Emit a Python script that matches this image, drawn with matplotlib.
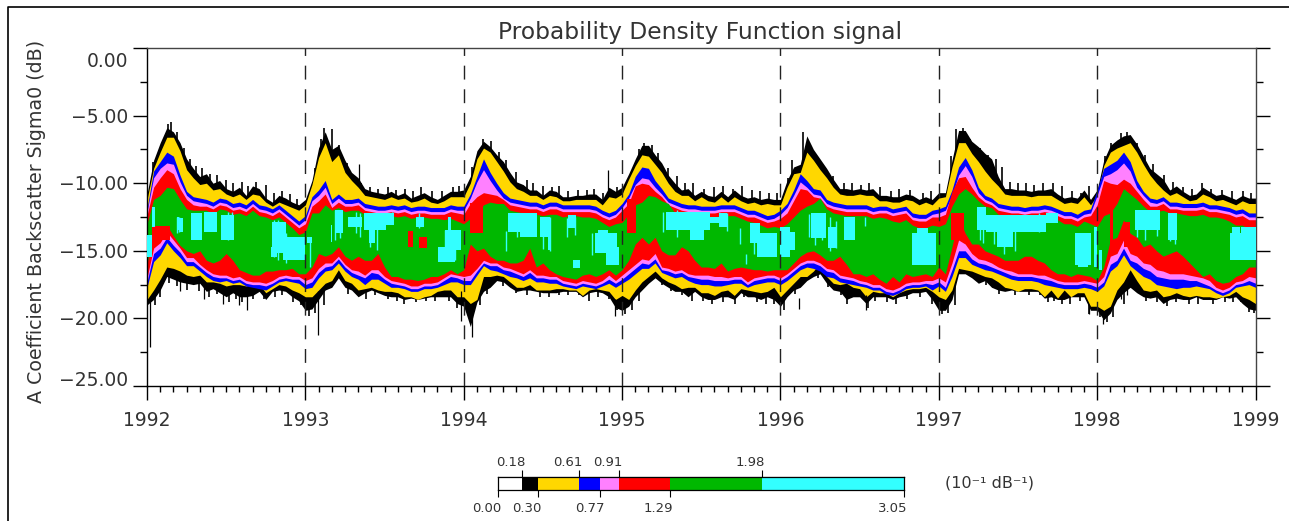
import numpy as np
import matplotlib
matplotlib.use('Agg')
import matplotlib.pyplot as plt
from matplotlib.lines import Line2D

# half-monthly samples 1992.0 -> 1999.0, dB
black_top = [
 -10.8,-8.3,-7.0,-5.9,-6.2,-7.0,-8.2,-8.9,-9.5,-9.3,-10.0,-9.8,-10.4,-10.6,-10.3,-10.9,-10.2,-10.4,-11.1,-11.4,-10.9,-11.1,-11.4,-11.6,
 -11.2,-9.8,-7.4,-6.2,-7.5,-7.2,-8.3,-9.2,-9.6,-10.4,-10.6,-10.7,-10.8,-10.6,-10.9,-10.7,-11.1,-10.9,-10.7,-11.0,-11.2,-10.9,-10.6,-10.6,
 -10.5,-9.5,-7.6,-6.9,-7.3,-7.9,-8.4,-9.2,-9.9,-10.1,-10.5,-10.5,-10.9,-10.5,-10.6,-11.0,-11.0,-10.9,-10.9,-10.8,-10.8,-11.2,-10.3,-10.6,
 -10.3,-9.3,-8.2,-7.2,-7.2,-7.9,-8.5,-9.4,-10.0,-10.5,-10.4,-10.9,-10.6,-10.9,-11.0,-10.6,-11.0,-10.5,-10.9,-11.1,-11.0,-11.2,-11.1,-11.2,
 -11.2,-9.8,-8.8,-8.6,-6.5,-7.5,-8.2,-8.9,-9.7,-10.4,-10.4,-10.5,-10.4,-10.5,-10.4,-10.9,-10.9,-11.0,-11.0,-10.8,-10.9,-11.2,-11.0,-11.2,
 -10.7,-10.7,-8.3,-6.1,-6.1,-6.9,-7.3,-7.8,-8.2,-9.5,-10.4,-10.4,-10.5,-10.5,-10.6,-10.5,-10.5,-10.4,-10.8,-11.1,-11.0,-11.1,-10.5,-11.2,
 -10.5,-8.3,-7.2,-6.8,-6.5,-6.4,-7.1,-8.0,-8.9,-9.3,-9.7,-10.5,-10.2,-10.6,-10.9,-10.8,-10.3,-10.6,-10.9,-10.8,-11.0,-11.2,-10.9,-11.1,-11.1]
yellow_top = [
 -11.2,-8.9,-7.7,-6.6,-6.6,-7.6,-9.0,-9.6,-10.1,-10.0,-10.5,-10.4,-10.8,-11.0,-10.8,-11.2,-10.8,-10.9,-11.4,-11.7,-11.4,-11.6,-11.8,-12.0,
 -11.6,-10.1,-8.1,-7.0,-8.4,-7.9,-9.2,-9.8,-10.3,-10.9,-11.0,-11.1,-11.2,-11.0,-11.2,-11.1,-11.4,-11.3,-11.1,-11.4,-11.5,-11.3,-11.0,-11.0,
 -11.0,-10.0,-8.2,-7.4,-7.7,-8.4,-9.1,-9.9,-10.4,-10.6,-10.9,-10.9,-11.2,-10.9,-11.0,-11.3,-11.3,-11.2,-11.2,-11.2,-11.2,-11.6,-11.0,-11.1,
 -10.8,-9.7,-8.7,-7.9,-8.0,-8.6,-9.2,-10.0,-10.6,-10.9,-10.9,-11.3,-11.0,-11.3,-11.4,-11.0,-11.4,-11.0,-11.3,-11.5,-11.4,-11.6,-11.5,-11.6,
 -11.6,-10.3,-9.3,-9.2,-7.7,-8.3,-9.0,-9.6,-10.3,-10.8,-10.9,-10.9,-10.8,-10.9,-10.9,-11.3,-11.3,-11.4,-11.4,-11.2,-11.3,-11.6,-11.4,-11.6,
 -11.1,-11.0,-8.8,-7.0,-7.0,-7.8,-8.4,-9.1,-9.7,-10.2,-10.8,-10.9,-10.9,-10.9,-11.0,-10.9,-10.9,-10.9,-11.2,-11.5,-11.4,-11.5,-11.0,-11.6,
 -10.9,-8.7,-7.7,-7.4,-7.2,-7.0,-7.7,-8.6,-9.4,-10.0,-10.5,-10.9,-10.7,-11.0,-11.3,-11.2,-10.8,-11.0,-11.3,-11.2,-11.4,-11.6,-11.3,-11.5,-11.5]
blue_top = [
 -11.9,-9.1,-8.4,-7.7,-8.0,-9.4,-10.6,-11.0,-11.1,-11.2,-11.4,-11.1,-11.2,-11.5,-11.4,-11.6,-11.2,-11.6,-11.7,-11.9,-11.6,-12.0,-12.4,-12.8,
 -12.4,-11.0,-10.5,-9.8,-11.2,-10.8,-11.2,-11.2,-11.1,-11.5,-11.6,-11.7,-11.7,-11.6,-11.7,-11.6,-11.8,-11.7,-11.7,-11.8,-11.8,-11.8,-11.6,-11.7,
 -11.7,-10.8,-9.5,-8.2,-9.2,-10.0,-10.7,-11.1,-11.2,-11.3,-11.4,-11.4,-11.6,-11.4,-11.4,-11.6,-11.6,-11.6,-11.6,-11.6,-11.7,-12.0,-12.2,-12.0,
 -11.5,-10.8,-9.5,-8.8,-8.9,-9.8,-10.4,-11.1,-11.3,-11.5,-11.6,-11.6,-11.7,-11.7,-11.7,-11.6,-11.6,-11.6,-11.8,-12.0,-12.0,-12.2,-12.4,-12.3,
 -12.0,-11.5,-10.5,-9.3,-9.8,-10.4,-10.5,-11.2,-11.4,-11.5,-11.6,-11.6,-11.6,-11.6,-11.8,-11.7,-11.7,-11.9,-11.8,-11.7,-12.2,-12.3,-12.3,-12.0,
 -11.9,-11.7,-10.5,-8.8,-8.1,-9.0,-10.3,-10.9,-11.1,-11.5,-11.6,-11.7,-11.7,-11.8,-11.7,-11.7,-11.6,-11.7,-11.9,-12.1,-12.1,-12.3,-12.0,-11.9,
 -10.5,-8.9,-8.6,-8.3,-7.7,-8.4,-9.8,-10.6,-11.1,-11.2,-11.0,-11.4,-11.4,-11.5,-11.5,-11.5,-11.4,-11.6,-11.6,-11.7,-11.8,-12.0,-11.9,-12.2,-12.2]
pink_top = [
 -12.1,-9.6,-8.9,-8.5,-8.6,-9.9,-10.9,-11.3,-11.4,-11.5,-11.7,-11.4,-11.5,-11.8,-11.7,-11.9,-11.5,-11.9,-12.0,-12.2,-11.9,-12.3,-12.7,-13.1,
 -12.7,-11.3,-10.9,-10.3,-11.5,-11.1,-11.5,-11.5,-11.4,-11.8,-11.9,-12.0,-12.0,-11.9,-12.0,-11.9,-12.1,-12.0,-12.0,-12.1,-12.1,-12.1,-11.9,-12.0,
 -12.0,-11.1,-9.9,-9.0,-9.8,-10.5,-11.1,-11.4,-11.5,-11.6,-11.7,-11.7,-11.9,-11.7,-11.7,-11.9,-11.9,-11.9,-11.9,-11.9,-12.0,-12.3,-12.5,-12.3,
 -11.8,-11.1,-10.1,-9.6,-9.7,-10.3,-10.8,-11.4,-11.6,-11.8,-11.9,-11.9,-12.0,-12.0,-12.0,-11.9,-11.9,-11.9,-12.1,-12.3,-12.3,-12.5,-12.7,-12.6,
 -12.3,-11.8,-10.9,-9.9,-10.3,-10.8,-10.9,-11.5,-11.7,-11.8,-11.9,-11.9,-11.9,-11.9,-12.1,-12.0,-12.0,-12.2,-12.1,-12.0,-12.5,-12.6,-12.6,-12.3,
 -12.2,-12.0,-10.9,-9.4,-8.7,-9.5,-10.7,-11.2,-11.4,-11.8,-11.9,-12.0,-12.0,-12.1,-12.0,-12.0,-11.9,-12.0,-12.2,-12.4,-12.4,-12.6,-12.3,-12.2,
 -10.9,-9.5,-9.3,-9.0,-8.5,-9.1,-10.3,-10.9,-11.4,-11.5,-11.3,-11.7,-11.7,-11.8,-11.8,-11.8,-11.7,-11.9,-11.9,-12.0,-12.1,-12.3,-12.2,-12.5,-12.5]
red_top = [
 -12.4,-10.3,-9.6,-9.0,-9.3,-10.4,-11.2,-11.6,-11.7,-11.7,-11.9,-11.6,-11.7,-12.0,-11.9,-12.1,-11.7,-12.1,-12.2,-12.4,-12.1,-12.5,-12.9,-13.3,
 -13.0,-11.7,-11.3,-10.8,-11.8,-11.4,-11.7,-11.7,-11.6,-12.0,-12.1,-12.2,-12.2,-12.1,-12.2,-12.1,-12.3,-12.2,-12.2,-12.3,-12.3,-12.3,-12.1,-12.2,
 -12.3,-11.5,-11.0,-10.7,-10.8,-10.9,-11.2,-11.6,-11.7,-11.8,-11.9,-11.9,-12.1,-11.9,-11.9,-12.1,-12.1,-12.1,-12.1,-12.1,-12.2,-12.5,-12.7,-12.5,
 -12.0,-11.5,-10.2,-10.0,-10.1,-10.6,-11.0,-11.6,-11.8,-12.0,-12.1,-12.1,-12.2,-12.2,-12.2,-12.1,-12.1,-12.1,-12.3,-12.5,-12.5,-12.7,-12.9,-12.8,
 -12.6,-12.2,-11.3,-10.4,-10.5,-11.0,-11.1,-11.7,-11.9,-12.0,-12.1,-12.1,-12.1,-12.1,-12.3,-12.2,-12.2,-12.4,-12.3,-12.2,-12.7,-12.8,-12.8,-12.5,
 -12.5,-12.3,-10.6,-9.6,-9.5,-10.3,-11.0,-11.4,-11.6,-12.0,-12.1,-12.2,-12.2,-12.3,-12.2,-12.2,-12.1,-12.2,-12.4,-12.6,-12.6,-12.8,-12.5,-12.4,
 -11.6,-9.8,-10.0,-10.1,-9.7,-10.0,-10.6,-11.2,-11.7,-11.7,-11.5,-11.9,-11.9,-12.0,-12.0,-12.0,-11.9,-12.1,-12.1,-12.2,-12.3,-12.5,-12.4,-12.7,-12.7]
green_top = [
 -13.0,-11.2,-10.9,-10.3,-10.4,-11.2,-11.9,-12.0,-12.0,-12.0,-12.3,-11.9,-12.0,-12.3,-12.2,-12.4,-12.0,-12.4,-12.5,-12.7,-12.5,-12.9,-13.3,-13.8,
 -13.6,-12.2,-12.2,-11.6,-12.0,-11.8,-12.1,-12.0,-12.0,-12.3,-12.4,-12.5,-12.5,-12.4,-12.5,-12.4,-12.6,-12.5,-12.5,-12.6,-12.6,-12.7,-12.6,-12.8,
 -13.0,-12.6,-12.3,-11.6,-11.4,-11.5,-11.5,-12.0,-12.1,-12.2,-12.2,-12.3,-12.4,-12.3,-12.3,-12.5,-12.4,-12.4,-12.5,-12.5,-12.6,-12.9,-13.2,-13.0,
 -12.9,-12.3,-11.6,-11.4,-10.9,-11.0,-11.3,-11.5,-12.2,-12.3,-12.4,-12.4,-12.5,-12.5,-12.5,-12.4,-12.4,-12.4,-12.6,-12.8,-12.9,-13.1,-13.3,-13.2,
 -13.3,-13.0,-12.5,-12.0,-11.7,-11.5,-11.1,-11.9,-12.2,-12.3,-12.4,-12.4,-12.4,-12.4,-12.6,-12.5,-12.6,-12.8,-12.9,-12.7,-13.1,-13.3,-13.3,-13.1,
 -13.2,-13.0,-11.7,-10.8,-10.4,-10.8,-11.3,-11.7,-11.8,-12.3,-12.4,-12.5,-12.5,-12.6,-12.5,-12.5,-12.4,-12.5,-12.7,-13.0,-13.0,-13.2,-12.8,-13.0,
 -13.2,-12.4,-12.2,-11.5,-10.4,-10.8,-11.2,-11.7,-12.1,-12.1,-12.0,-12.2,-12.2,-12.3,-12.4,-12.4,-12.3,-12.5,-12.5,-12.6,-12.8,-13.1,-13.1,-13.4,-13.4]
green_bot = [
 -16.0,-13.3,-13.3,-13.1,-13.9,-14.6,-15.0,-15.2,-15.0,-15.7,-15.9,-15.7,-15.2,-15.7,-16.4,-16.6,-16.8,-16.8,-16.5,-16.5,-16.4,-16.4,-16.3,-16.7,
 -16.7,-16.2,-15.2,-15.4,-15.2,-14.7,-15.4,-15.7,-15.4,-15.7,-15.7,-15.2,-16.2,-16.9,-16.9,-17.1,-17.1,-17.2,-17.1,-16.9,-16.9,-16.7,-16.4,-16.7,
 -16.4,-14.5,-15.0,-14.8,-15.4,-15.7,-15.7,-15.9,-15.9,-15.7,-14.8,-16.2,-15.9,-16.4,-16.7,-16.9,-17.0,-17.1,-16.8,-16.7,-16.9,-16.7,-16.4,-16.8,
 -16.4,-15.7,-14.5,-14.0,-14.5,-14.0,-15.0,-15.3,-15.3,-14.7,-15.0,-15.7,-16.2,-16.2,-16.3,-15.9,-16.5,-16.3,-16.2,-16.3,-16.4,-16.4,-16.5,-16.4,
 -16.4,-16.4,-15.9,-15.4,-15.1,-15.0,-15.3,-15.7,-15.7,-15.4,-16.0,-16.7,-16.7,-16.9,-16.7,-17.1,-17.4,-16.9,-17.3,-16.7,-16.9,-16.8,-16.7,-16.9,
 -16.2,-16.7,-14.7,-12.5,-13.7,-14.5,-14.5,-15.0,-15.2,-15.4,-15.7,-15.7,-15.7,-15.4,-15.4,-15.7,-15.9,-16.4,-16.7,-16.7,-16.9,-16.7,-16.8,-16.9,
 -17.2,-16.2,-14.2,-14.0,-12.7,-13.7,-14.0,-14.7,-14.5,-15.0,-15.4,-15.2,-15.0,-15.4,-15.9,-16.4,-16.9,-16.7,-17.2,-17.4,-17.3,-16.9,-16.7,-16.2,-16.2]
red_bot = [
 -17.0,-14.8,-14.4,-13.6,-14.2,-14.8,-15.5,-15.5,-16.0,-16.4,-16.7,-16.8,-16.8,-17.0,-16.9,-17.2,-17.3,-17.3,-17.4,-17.2,-16.9,-16.8,-16.9,-16.9,
 -17.2,-17.0,-16.3,-15.9,-15.9,-15.4,-16.0,-16.4,-16.5,-16.8,-16.4,-16.4,-16.9,-17.2,-17.3,-17.4,-17.6,-17.6,-17.4,-17.4,-17.3,-17.0,-16.7,-16.8,
 -16.9,-16.8,-16.3,-15.7,-15.9,-15.9,-16.2,-16.3,-16.5,-16.7,-16.4,-16.8,-16.8,-16.9,-16.9,-17.2,-17.3,-17.4,-17.2,-17.3,-17.4,-17.2,-16.8,-17.2,
 -16.8,-16.4,-16.0,-15.6,-15.7,-15.2,-16.2,-16.3,-16.5,-16.4,-16.7,-16.8,-16.8,-16.8,-16.9,-16.9,-17.0,-16.9,-16.9,-17.3,-17.0,-16.9,-16.8,-16.8,
 -17.0,-16.7,-16.3,-15.9,-15.7,-15.7,-15.9,-16.3,-16.4,-16.8,-16.9,-17.0,-17.2,-17.3,-17.5,-17.5,-17.8,-17.9,-17.7,-17.4,-17.3,-17.3,-17.2,-17.2,
 -17.0,-17.3,-15.9,-14.2,-14.5,-15.2,-15.6,-15.7,-15.9,-16.2,-16.4,-16.5,-16.7,-16.7,-16.7,-16.8,-16.8,-17.0,-17.2,-17.3,-17.3,-17.3,-17.2,-17.3,
 -17.4,-16.9,-15.4,-15.2,-14.2,-15.2,-15.4,-15.9,-16.0,-16.4,-16.5,-16.7,-16.7,-16.7,-16.8,-16.9,-17.0,-17.2,-17.7,-17.9,-17.7,-17.3,-17.2,-16.9,-17.0]
pink_bot = [
 -17.3,-15.2,-14.8,-14.0,-14.6,-15.1,-15.8,-15.8,-16.2,-16.6,-16.9,-17.0,-17.0,-17.2,-17.1,-17.4,-17.5,-17.5,-17.6,-17.4,-17.1,-17.0,-17.1,-17.1,
 -17.5,-17.3,-16.6,-16.2,-16.1,-15.6,-16.2,-16.6,-16.8,-17.0,-16.6,-16.7,-17.1,-17.4,-17.5,-17.6,-17.8,-17.8,-17.6,-17.6,-17.5,-17.2,-16.9,-17.0,
 -17.2,-17.2,-16.5,-15.9,-16.1,-16.1,-16.4,-16.5,-16.7,-16.9,-16.6,-17.0,-17.0,-17.1,-17.1,-17.4,-17.5,-17.6,-17.4,-17.5,-17.6,-17.4,-17.1,-17.4,
 -17.1,-16.7,-16.3,-15.9,-16.0,-15.6,-16.4,-16.5,-16.7,-16.6,-16.9,-17.0,-17.1,-17.1,-17.2,-17.2,-17.2,-17.1,-17.1,-17.5,-17.2,-17.1,-17.0,-17.0,
 -17.2,-16.9,-16.5,-16.1,-15.9,-15.9,-16.1,-16.5,-16.6,-17.0,-17.1,-17.2,-17.4,-17.5,-17.7,-17.7,-18.0,-18.1,-17.9,-17.6,-17.5,-17.5,-17.4,-17.5,
 -17.3,-17.7,-16.4,-15.0,-15.0,-15.6,-15.9,-16.0,-16.2,-16.4,-16.6,-16.8,-16.9,-16.9,-16.9,-17.0,-17.1,-17.2,-17.4,-17.5,-17.5,-17.5,-17.4,-17.5,
 -17.7,-17.3,-16.0,-15.7,-14.8,-15.7,-15.9,-16.3,-16.5,-16.9,-17.0,-17.1,-17.1,-17.1,-17.2,-17.2,-17.4,-17.6,-17.9,-18.1,-17.9,-17.5,-17.4,-17.2,-17.4]
blue_bot = [
 -17.7,-15.8,-15.3,-14.4,-15.0,-15.5,-16.1,-16.1,-16.5,-16.9,-17.2,-17.3,-17.2,-17.4,-17.3,-17.6,-17.7,-17.8,-17.9,-17.6,-17.3,-17.2,-17.3,-17.4,
 -17.8,-17.7,-17.0,-16.5,-16.4,-15.9,-16.5,-16.9,-17.1,-17.5,-17.1,-17.1,-17.4,-17.7,-17.7,-17.8,-18.0,-18.0,-17.8,-17.8,-17.7,-17.5,-17.3,-17.3,
 -17.5,-17.5,-16.8,-16.1,-16.4,-16.5,-16.7,-16.9,-17.0,-17.2,-17.0,-17.3,-17.3,-17.4,-17.4,-17.6,-17.7,-17.8,-17.6,-17.7,-17.8,-17.6,-17.4,-17.7,
 -17.4,-17.1,-16.7,-16.3,-16.3,-15.9,-16.6,-16.8,-17.0,-16.9,-17.2,-17.4,-17.5,-17.5,-17.6,-17.6,-17.5,-17.4,-17.4,-17.7,-17.5,-17.4,-17.3,-17.3,
 -17.5,-17.2,-16.8,-16.4,-16.2,-16.3,-16.5,-16.9,-17.0,-17.3,-17.4,-17.5,-17.6,-17.7,-17.9,-17.9,-18.2,-18.3,-18.1,-17.8,-17.7,-17.7,-17.6,-17.9,
 -17.6,-18.0,-16.9,-15.5,-15.5,-16.0,-16.2,-16.4,-16.5,-16.7,-16.9,-17.1,-17.2,-17.2,-17.2,-17.3,-17.5,-17.6,-17.7,-17.8,-17.8,-17.8,-17.7,-17.8,
 -18.0,-17.6,-16.5,-16.1,-15.3,-16.1,-16.5,-16.9,-17.1,-17.5,-17.6,-17.7,-17.8,-17.7,-17.7,-17.6,-17.7,-17.8,-18.1,-18.3,-18.1,-17.7,-17.6,-17.5,-17.7]
yellow_bot = [
 -18.6,-17.9,-17.1,-16.2,-16.3,-16.5,-16.8,-16.9,-16.8,-17.3,-17.3,-17.4,-17.6,-17.5,-17.5,-17.6,-17.5,-17.5,-18.1,-17.8,-17.5,-17.6,-17.9,-18.1,
 -18.4,-18.4,-17.9,-17.4,-17.2,-16.4,-17.2,-17.4,-17.9,-17.8,-17.7,-17.9,-18.0,-18.0,-18.1,-18.4,-18.4,-18.6,-18.4,-18.3,-18.0,-17.9,-17.9,-18.4,
 -18.4,-18.9,-18.6,-16.9,-16.9,-16.8,-16.9,-17.3,-17.7,-17.7,-17.5,-17.9,-17.9,-17.9,-17.8,-17.8,-17.9,-17.9,-18.3,-17.9,-17.8,-17.9,-18.0,-18.6,
 -18.3,-18.6,-17.9,-17.3,-16.9,-16.5,-17.0,-17.3,-17.5,-17.8,-17.7,-17.7,-18.1,-18.1,-18.3,-18.0,-17.9,-18.3,-17.8,-17.9,-18.0,-18.1,-18.0,-17.7,
 -18.4,-17.9,-17.4,-16.9,-16.9,-16.5,-15.9,-16.9,-17.4,-17.5,-17.4,-17.7,-17.8,-18.4,-18.0,-18.1,-18.1,-18.4,-18.1,-17.9,-17.8,-17.8,-17.7,-18.0,
 -18.4,-18.6,-17.9,-16.3,-16.4,-16.5,-16.7,-16.9,-17.0,-17.3,-17.7,-17.8,-18.0,-17.8,-17.8,-17.9,-18.4,-17.9,-18.5,-17.9,-18.4,-18.1,-18.1,-19.1,
 -19.1,-19.4,-19.1,-17.9,-17.3,-16.4,-17.2,-17.9,-18.0,-17.9,-18.4,-18.3,-18.1,-18.3,-18.4,-18.3,-18.4,-18.4,-18.5,-18.4,-18.3,-18.0,-18.4,-18.6,-18.9]
black_bot = [
 -19.0,-18.6,-17.9,-16.9,-17.1,-17.3,-17.4,-17.5,-17.4,-18.0,-17.8,-18.1,-18.4,-18.1,-18.4,-18.4,-18.3,-18.0,-18.6,-18.0,-17.9,-18.0,-18.4,-18.7,
 -19.4,-19.3,-18.6,-17.9,-17.7,-17.0,-17.7,-17.9,-18.4,-18.1,-17.9,-18.1,-18.3,-18.4,-18.4,-18.6,-18.5,-18.6,-18.5,-18.4,-18.4,-18.4,-18.4,-18.9,
 -19.1,-20.6,-18.8,-18.0,-17.7,-17.2,-17.3,-17.7,-18.0,-17.9,-17.9,-18.0,-18.1,-18.1,-18.1,-18.0,-18.0,-18.0,-18.4,-18.1,-18.0,-18.1,-18.4,-19.2,
 -19.4,-19.1,-18.4,-17.9,-17.4,-17.0,-17.4,-17.7,-18.0,-18.0,-18.4,-18.0,-18.4,-18.6,-18.6,-18.4,-18.4,-18.6,-18.1,-18.4,-18.4,-18.6,-18.4,-18.6,
 -19.1,-18.4,-17.9,-17.7,-17.2,-16.9,-16.7,-17.4,-17.9,-18.0,-18.6,-18.4,-18.4,-18.9,-18.4,-18.4,-18.4,-18.6,-18.4,-18.3,-18.1,-18.1,-18.0,-18.6,
 -19.4,-19.4,-18.6,-16.7,-16.7,-17.0,-17.4,-17.2,-17.7,-17.9,-18.0,-17.9,-18.0,-18.0,-18.0,-18.0,-18.5,-18.4,-18.6,-18.6,-18.4,-18.4,-18.4,-19.4,
 -19.4,-20.1,-19.6,-18.6,-18.1,-17.7,-18.1,-18.4,-18.5,-18.4,-18.9,-18.6,-18.5,-18.6,-18.6,-18.4,-18.6,-18.6,-18.6,-18.4,-18.5,-18.4,-18.9,-19.3,-19.4]

# cyan patches: start, end (year), top, bottom (dB)
cyan_t0 = [1992.00,1992.03,1992.19,1992.21,1992.28,1992.36,1992.47,1992.79,1992.86,1992.78,1993.01,1993.16,1993.19,1993.27,1993.37,1993.40,1993.51,1993.70,1993.84,1993.88,1993.90,
           1994.355,1994.28,1994.48,1994.535,1994.66,1994.83,1994.90,1994.85,1994.69,1995.28,1995.43,1995.61,1995.556,1995.81,1995.87,1995.85,1996.00,
           1996.00,1996.19,1996.30,1996.40,1996.83,1996.86,1997.24,1997.30,1997.37,1997.68,1997.86,1997.88,1997.98,1998.01,1998.24,1998.45,1998.84,1998.91,1998.85]
cyan_t1 = [1992.03,1992.05,1992.20,1992.23,1992.35,1992.44,1992.55,1992.88,1993.00,1992.82,1993.04,1993.17,1993.24,1993.36,1993.51,1993.44,1993.56,1993.75,1993.945,1993.98,1993.92,
           1994.46,1994.46,1994.545,1994.55,1994.71,1994.965,1994.98,1994.91,1994.735,1995.556,1995.515,1995.66,1995.61,1995.87,1995.977,1995.88,1996.06,
           1996.09,1996.29,1996.35,1996.47,1996.98,1996.93,1997.30,1997.68,1997.47,1997.75,1997.96,1997.94,1998.00,1998.03,1998.40,1998.505,1999.00,1999.00,1998.90]
cyan_top = [-13.83,-11.74,-12.48,-12.60,-12.23,-12.10,-12.35,-12.85,-13.96,-14.70,-13.96,-13.09,-11.98,-12.48,-12.23,-13.46,-12.23,-12.48,-14.70,-13.46,-12.48,
            -13.59,-12.23,-12.48,-13.96,-12.35,-13.71,-14.70,-13.46,-15.68,-12.10,-13.46,-12.23,-12.48,-12.97,-13.71,-14.45,-13.22,
            -13.59,-12.23,-13.22,-12.48,-13.71,-13.34,-11.74,-12.35,-13.59,-12.23,-13.71,-16.05,-13.22,-14.94,-11.98,-12.23,-13.71,-13.22,-13.22]
cyan_bot = [-15.44,-13.22,-13.46,-13.59,-14.20,-13.59,-14.20,-15.19,-15.68,-15.44,-14.45,-14.33,-13.71,-13.22,-13.46,-14.45,-13.09,-13.22,-15.80,-14.94,-13.46,
            -13.96,-13.59,-13.96,-14.94,-13.34,-15.19,-16.05,-13.96,-16.30,-13.46,-14.20,-13.22,-12.97,-14.45,-15.44,-15.44,-15.44,
            -14.94,-14.08,-14.82,-14.20,-16.05,-13.96,-13.46,-13.59,-14.70,-12.97,-16.05,-16.18,-16.18,-16.42,-13.46,-14.20,-15.68,-15.68,-14.20]
# thin cyan streaks hanging off the patches
streak_t = [1992.19,1992.20,1992.51,1992.535,1992.80,1992.83,1992.88,1993.03,1993.19,1993.22,1993.32,1993.345,1993.41,1993.45,1993.545,1993.72,1993.88,1993.91,1993.945,
            1994.27,1994.335,1994.50,1994.545,1994.65,1994.70,1994.81,1995.26,1995.345,1995.66,1995.745,1995.78,1995.83,
            1996.18,1996.22,1996.26,1996.315,1996.35,1996.535,1997.26,1997.28,1997.35,1997.41,1997.48,1997.63,1998.25,1998.305,1998.38,1998.46,1998.49,1998.86]
streak_top = [-12.48,-12.48,-12.1,-12.1,-12.72,-12.72,-13.71,-13.96,-11.98,-11.98,-12.1,-12.23,-13.46,-12.72,-12.1,-12.23,-13.46,-13.46,-13.46,
              -13.5,-12.35,-12.6,-12.5,-12.6,-12.5,-13.7,-12.1,-12.0,-12.2,-13.3,-15.2,-13.0,
              -12.3,-12.2,-12.2,-12.5,-12.8,-12.5,-12.0,-12.2,-12.6,-12.8,-12.7,-12.2,-12.0,-12.0,-12.0,-12.2,-12.3,-13.5]
streak_bot = [-13.71,-13.59,-14.2,-14.08,-15.44,-15.68,-15.93,-16.18,-14.2,-14.08,-13.71,-13.96,-14.7,-14.94,-12.97,-13.34,-15.68,-15.44,-15.68,
              -15.0,-14.0,-14.9,-15.0,-14.0,-13.8,-15.3,-13.6,-14.0,-13.5,-14.5,-16.0,-15.2,
              -14.0,-14.6,-14.2,-15.0,-14.8,-13.2,-14.2,-14.4,-14.5,-15.2,-15.0,-13.6,-14.0,-14.2,-13.9,-14.3,-14.5,-15.2]
# red patches inside the green
red_t0 = [1992.03,1993.65,1993.72,1994.04,1995.03,1997.08,1998.08,1998.17]
red_t1 = [1992.145,1993.68,1993.77,1994.12,1995.09,1997.16,1998.10,1998.21]
red_p_top = [-13.2,-13.5,-14.0,-11.5,-11.2,-12.2,-11.2,-12.85]
red_p_bot = [-14.2,-14.7,-14.8,-13.7,-13.7,-14.2,-14.7,-14.7]
# thin noise spikes outside the envelope
spike_t = [1992.02,1992.21,1992.36,1992.48,1992.58,1992.63,1993.08,1993.34,1993.98,1994.05,1994.914,1994.956,1996.115,1996.54,1997.95,1998.04,1998.15,1998.19]
spike_hi = [-18.5,-17.0,-17.3,-18.0,-18.0,-18.2,-18.0,-10.0,-18.0,-19.0,-10.5,-18.6,-18.5,-18.3,-19.0,-19.5,-18.0,-17.0]
spike_lo = [-22.1,-18.0,-18.6,-18.9,-19.0,-19.4,-21.2,-8.6,-20.2,-21.4,-9.0,-19.8,-19.3,-19.4,-19.7,-20.4,-18.6,-18.3]
# serrated tips on the black edges
tooth_top_t = [1992.04,1992.09,1992.13,1992.15,1992.19,1992.235,1992.27,1992.31,1992.35,1992.40,1992.44,1992.50,1992.54,1992.60,1992.64,1992.69,1992.75,1992.80,1992.85,1992.90,1992.95,
 1993.06,1993.10,1993.12,1993.17,1993.21,1993.26,1993.35,1993.41,1993.46,1993.52,1993.57,1993.63,1993.68,1993.73,1993.80,1993.86,1993.93,1993.97,
 1994.05,1994.12,1994.17,1994.22,1994.27,1994.33,1994.40,1994.44,1994.50,1994.56,1994.60,1994.66,1994.72,1994.78,1994.82,1994.88,1994.97,
 1995.06,1995.11,1995.14,1995.19,1995.23,1995.29,1995.35,1995.40,1995.45,1995.52,1995.58,1995.64,1995.70,1995.76,1995.82,1995.87,1995.93,1995.98,
 1996.05,1996.07,1996.14,1996.19,1996.26,1996.33,1996.40,1996.45,1996.51,1996.56,1996.63,1996.70,1996.75,1996.82,1996.90,1996.95,
 1997.08,1997.11,1997.15,1997.20,1997.26,1997.31,1997.36,1997.40,1997.45,1997.50,1997.55,1997.60,1997.66,1997.72,1997.78,1997.84,1997.90,1997.95,
 1998.05,1998.09,1998.15,1998.19,1998.25,1998.30,1998.35,1998.42,1998.48,1998.54,1998.60,1998.66,1998.72,1998.79,1998.85,1998.92,1998.97]
tooth_top_v = [-8.4,-7.3,-5.6,-5.5,-6.2,-7.4,-8.2,-8.7,-8.9,-9.3,-9.4,-9.8,-10.0,-9.9,-10.2,-9.9,-10.1,-10.7,-10.6,-10.8,-11.2,
 -8.9,-6.7,-5.9,-6.0,-7.2,-8.5,-10.0,-10.3,-10.4,-10.3,-10.5,-10.4,-10.6,-10.3,-10.6,-10.6,-10.3,-10.2,
 -8.8,-6.7,-6.9,-7.7,-8.3,-9.2,-9.8,-10.0,-10.2,-10.3,-10.2,-10.6,-10.5,-10.5,-10.4,-10.7,-10.3,
 -9.0,-7.5,-7.0,-7.2,-7.8,-8.9,-9.5,-10.0,-10.0,-10.4,-10.3,-10.2,-10.4,-10.2,-10.5,-10.6,-10.7,-10.7,
 -9.6,-8.3,-6.2,-7.3,-8.7,-9.5,-10.0,-10.0,-10.1,-10.0,-10.3,-10.6,-10.4,-10.5,-10.7,-10.6,
 -8.0,-6.0,-5.9,-6.7,-7.4,-7.9,-8.2,-8.8,-9.9,-10.0,-10.0,-10.1,-10.0,-10.0,-10.2,-10.6,-10.7,-10.2,
 -8.0,-7.0,-6.3,-6.2,-7.0,-7.9,-8.6,-9.4,-9.9,-10.3,-10.4,-10.0,-10.4,-10.5,-10.6,-10.6,-10.7]
tooth_bot_t = [1992.05,1992.08,1992.14,1992.19,1992.25,1992.33,1992.39,1992.44,1992.52,1992.56,1992.60,1992.67,1992.74,1992.81,1992.85,1992.92,1992.97,
 1993.02,1993.06,1993.12,1993.27,1993.38,1993.44,1993.52,1993.58,1993.62,1993.70,1993.76,1993.82,1993.91,1993.96,
 1994.02,1994.10,1994.15,1994.25,1994.33,1994.40,1994.48,1994.54,1994.60,1994.66,1994.73,1994.79,1994.85,1994.92,1994.97,
 1995.02,1995.06,1995.11,1995.25,1995.31,1995.38,1995.44,1995.51,1995.57,1995.64,1995.71,1995.77,1995.85,1995.91,1995.96,
 1996.02,1996.09,1996.24,1996.30,1996.38,1996.42,1996.55,1996.60,1996.67,1996.73,1996.80,1996.88,1996.96,
 1997.02,1997.06,1997.10,1997.30,1997.38,1997.48,1997.57,1997.64,1997.69,1997.73,1997.78,1997.83,1997.89,1997.95,
 1998.02,1998.06,1998.10,1998.17,1998.31,1998.38,1998.44,1998.50,1998.58,1998.64,1998.73,1998.81,1998.86,1998.91,1998.96,1998.99]
tooth_bot_v = [-19.0,-18.4,-17.4,-17.6,-17.9,-18.0,-18.4,-18.2,-18.8,-18.6,-18.8,-18.6,-18.6,-18.4,-18.3,-18.8,-19.0,
 -19.8,-19.6,-19.0,-18.2,-18.6,-18.3,-18.6,-18.7,-18.9,-18.8,-18.7,-18.7,-18.7,-19.2,
 -19.5,-19.0,-18.2,-17.6,-18.1,-18.3,-18.4,-18.4,-18.3,-18.3,-18.3,-18.7,-18.4,-18.6,-19.4,
 -19.7,-19.4,-18.7,-17.5,-18.0,-18.3,-18.7,-18.7,-18.9,-18.8,-18.9,-18.4,-18.8,-18.9,-18.9,
 -19.4,-18.2,-17.0,-17.7,-18.3,-18.9,-19.2,-18.7,-18.8,-18.9,-18.6,-18.4,-18.9,
 -19.7,-19.6,-19.0,-17.5,-18.2,-18.3,-18.3,-18.3,-18.8,-18.7,-18.9,-18.9,-18.7,-19.7,
 -19.9,-20.3,-19.9,-18.9,-18.7,-18.8,-19.1,-18.8,-18.9,-18.9,-18.9,-18.8,-18.8,-18.8,-19.5,-19.6]

years = [1992, 1993, 1994, 1995, 1996, 1997, 1998, 1999]
dashed_years = [1993, 1994, 1995, 1996, 1997, 1998]
ymajor = [0, -5, -10, -15, -20, -25]
yminor = [-2.5, -7.5, -12.5, -17.5, -22.5]
ylabel_pos = [-1.03, -5.15, -10.1, -15.1, -20.1, -24.6]
ylabels = ['0.00', '\u22125.00', '\u221210.00', '\u221215.00', '\u221220.00', '\u221225.00']

cbar_edges = [0.00, 0.18, 0.30, 0.61, 0.77, 0.91, 1.29, 1.98, 3.05]
cbar_colors = ['white', 'black', '#FFD700', '#0000FF', '#FF80FF', '#FF0000', '#00B800', '#33FFFF']
cbar_up = [0.18, 0.61, 0.91, 1.98]
cbar_down = [0.00, 0.30, 0.77, 1.29, 3.05]

W, H = 1289.0, 521.0
dpi = 100
plt.rcParams['font.family'] = ['DejaVu Sans']
fig = plt.figure(figsize=(W/dpi, H/dpi), dpi=dpi)
txt = '#333333'

# px box: x 147-1255.5, y 48-386
ax = fig.add_axes([147/W, (H-386)/H, 1108.5/W, 338/H])
t = 1992 + np.arange(len(black_top))/24.0
ax.vlines(tooth_top_t, -14, tooth_top_v, color='black', lw=1.2, zorder=1)
ax.vlines(tooth_bot_t, -15, tooth_bot_v, color='black', lw=1.2, zorder=1)
layers = [(black_top, black_bot, 'black'), (yellow_top, yellow_bot, '#FFD700'),
          (blue_top, blue_bot, '#0000FF'), (pink_top, pink_bot, '#FF80FF'),
          (red_top, red_bot, '#FF0000'), (green_top, green_bot, '#00B800')]
for top, bot, col in layers:
    ax.fill_between(t, top, bot, color=col, lw=0, zorder=2)
ax.bar(red_t0, np.array(red_p_bot)-np.array(red_p_top), np.array(red_t1)-np.array(red_t0),
       bottom=red_p_top, align='edge', color='#FF0000', lw=0, zorder=3)
ax.bar(cyan_t0, np.array(cyan_bot)-np.array(cyan_top), np.array(cyan_t1)-np.array(cyan_t0),
       bottom=cyan_top, align='edge', color='#33FFFF', lw=0, zorder=3)
ax.vlines(streak_t, streak_bot, streak_top, color='#33FFFF', lw=1.0, zorder=3)
ax.vlines(spike_t, spike_lo, spike_hi, color='black', lw=0.9, zorder=3)
ax.vlines(dashed_years, -25, 0, color='#222222', lw=1.0, linestyles=(0, (10, 7)), zorder=5)

ax.set_xlim(1992, 1999)
ax.set_ylim(-25, 0)
ax.set_xticks(years)
ax.set_xticks(np.arange(1992, 1999, 1/12.0), minor=True)
ax.set_yticks(ymajor)
ax.set_yticks(yminor, minor=True)
ax.set_yticklabels([])
ax.tick_params(axis='x', which='major', length=10, width=1, labelsize=13.5, pad=8, labelcolor=txt)
ax.tick_params(axis='x', which='minor', length=4.5, width=1)
ax.tick_params(axis='y', which='major', length=10, width=1, left=True, right=True)
ax.tick_params(axis='y', which='minor', length=5, width=1, left=True, right=True)
for s in ax.spines.values():
    s.set_linewidth(1.0)
ax.spines['right'].set_color('#444444')
ax.spines['top'].set_color('#444444')

for pos, lab in zip(ylabel_pos, ylabels):
    ax.annotate(lab, xy=(0, pos), xycoords=('axes fraction', 'data'), xytext=(-19, 0),
                textcoords='offset pixels', ha='right', va='center', fontsize=13.5, color=txt)

fig.text(700/W, 1-32/H, 'Probability Density Function signal', ha='center', va='center', fontsize=16.8, color=txt)
fig.text(37/W, 1-221/H, 'A Coefficient Backscatter Sigma0 (dB)', rotation=90, ha='center', va='center',
         fontsize=13.7, color=txt)

# page frame, left and top only
fig.add_artist(Line2D([8/W, 8/W, 1.0], [0, 1-7/H, 1-7/H], transform=fig.transFigure, color='black', lw=1.2))

# colour key
cax = fig.add_axes([498/W, (H-490)/H, 406/W, 13/H])
for i, col in enumerate(cbar_colors):
    cax.axvspan(cbar_edges[i], cbar_edges[i+1], color=col, lw=0)
cax.set_xlim(0, 3.05)
cax.set_ylim(0, 1)
cax.set_yticks([])
cax.set_xticks(cbar_down)
cax.set_xticklabels([])
cax.tick_params(axis='x', length=5, width=0.8)
cax2 = cax.secondary_xaxis('top')
cax2.set_xticks(cbar_up)
cax2.set_xticklabels([])
cax2.tick_params(axis='x', length=5, width=0.8)
for v in cbar_down:
    cax.annotate('%.2f' % v, xy=(v, 0), xycoords=('data', 'axes fraction'), xytext=(-11, -18),
                 textcoords='offset pixels', ha='center', va='center', fontsize=9.5, color=txt)
for v in cbar_up:
    cax.annotate('%.2f' % v, xy=(v, 1), xycoords=('data', 'axes fraction'), xytext=(-11, 14),
                 textcoords='offset pixels', ha='center', va='center', fontsize=9.5, color=txt)
for s in cax.spines.values():
    s.set_linewidth(0.9)
fig.text(945/W, 1-483/H, '(10\u207b\u00b9 dB\u207b\u00b9)', ha='left', va='center', fontsize=11.5, color=txt)

plt.savefig('out.png', dpi=dpi)
